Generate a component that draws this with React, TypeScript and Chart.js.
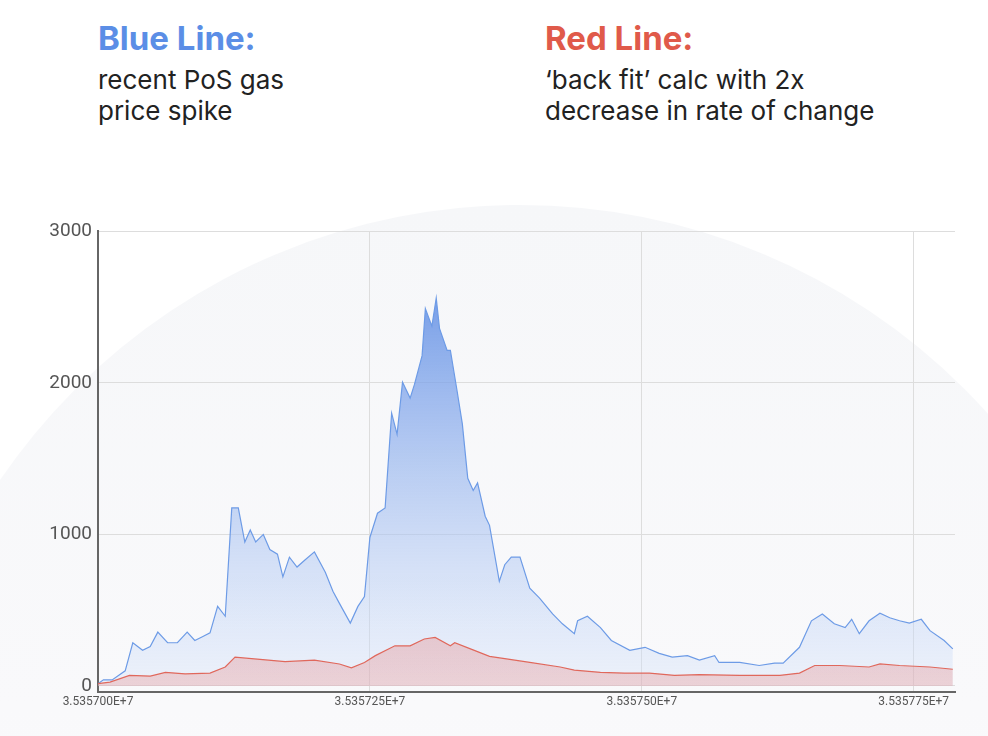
import React, { useEffect, useRef } from "react";
import { Chart, registerables } from "chart.js";
Chart.register(...registerables);

const BASE = 35357000;
const blueBlocks = [0,5,13,25,32,41,48,55,64,73,82,89,96,103,110,117,123,129,135,140,145,152,158,165,170,176,183,190,199,209,216,222,232,239,245,250,257,264,270,275,280,287,291,298,301,307,311,314,321,324,330,335,340,345,349,356,360,369,374,380,388,397,406,418,427,438,441,450,462,472,489,503,516,528,542,553,567,571,590,608,622,630,645,656,666,677,687,693,700,709,719,728,737,746,757,765,778,786];
const blueGas = [15,40,40,100,285,235,260,355,285,285,355,300,325,350,525,460,1175,1175,950,1030,950,1000,900,870,720,850,785,830,885,750,625,545,415,525,590,980,1140,1175,1800,1660,2005,1900,1990,2180,2490,2375,2560,2360,2215,2215,1955,1730,1370,1290,1340,1120,1060,690,800,850,850,645,580,475,410,345,430,460,385,300,235,255,215,190,200,170,200,155,155,135,150,150,255,430,475,410,385,440,345,430,480,450,430,415,440,365,300,245];
const redBlocks = [0,11,29,48,62,80,103,117,126,149,172,199,222,233,245,255,273,287,300,310,324,328,346,360,374,397,425,438,462,484,507,530,553,590,627,645,659,682,709,719,737,765,786];
const redGas = [15,25,70,65,90,80,85,125,190,175,160,170,145,120,155,200,265,265,310,320,265,285,235,195,180,155,125,105,90,85,85,70,75,70,70,85,135,135,125,145,135,125,110];
const yTicks = [0, 1000, 2000, 3000];

export default function App() {
  const ref = useRef<HTMLCanvasElement>(null);
  useEffect(() => {
    const grad = (ctx: any, top: string, bottom: string) => {
      const { chart } = ctx;
      const a = chart.chartArea;
      if (!a) return top;
      const g = chart.ctx.createLinearGradient(0, a.top, 0, a.bottom);
      g.addColorStop(0, top);
      g.addColorStop(1, bottom);
      return g;
    };
    const chart = new Chart(ref.current!, {
      type: "line",
      data: {
        datasets: [
          {
            data: redBlocks.map((b, i) => ({ x: BASE + b, y: redGas[i] })),
            borderColor: "#e0685c",
            borderWidth: 1.2,
            pointRadius: 0,
            fill: "origin",
            backgroundColor: (c: any) => grad(c, "rgba(225,110,105,0.75)", "rgba(230,150,150,0.35)"),
            order: 0,
          },
          {
            data: blueBlocks.map((b, i) => ({ x: BASE + b, y: blueGas[i] })),
            borderColor: "#6d9be6",
            borderWidth: 1.2,
            pointRadius: 0,
            fill: "origin",
            backgroundColor: (c: any) => grad(c, "rgba(80,130,225,0.95)", "rgba(215,228,250,0.35)"),
            order: 1,
          },
        ],
      },
      options: {
        animation: false,
        responsive: true,
        maintainAspectRatio: false,
        layout: { padding: { top: 3, right: 5, left: 0, bottom: 0 } },
        plugins: { legend: { display: false }, tooltip: { enabled: false } },
        scales: {
          x: {
            type: "linear",
            min: BASE,
            max: BASE + 788,
            afterBuildTicks: (s: any) => {
              s.ticks = [0, 250, 500, 750].map((v) => ({ value: BASE + v }));
            },
            afterFit: (s: any) => { s.height = 40; },
            ticks: {
              color: "#555",
              font: { family: "Roboto", size: 12 },
              maxRotation: 0,
              callback: (v: any) => (Number(v) / 1e7).toFixed(6) + "E+7",
            },
            grid: { color: "#dddddd", drawTicks: false },
            border: { color: "#666", width: 2 },
          },
          y: {
            min: -40,
            max: 3000,
            afterBuildTicks: (s: any) => { s.ticks = yTicks.map((v) => ({ value: v })); },
            afterFit: (s: any) => { s.width = 58; },
            ticks: {
              color: "#555",
              font: { family: "Roboto", size: 19 },
              padding: 6,
              callback: (v: any) => String(v),
            },
            grid: { color: "#dddddd", drawTicks: false },
            border: { color: "#666", width: 2 },
          },
        },
      },
    });
    return () => chart.destroy();
  }, []);

  return (
    <div style={{ position: "fixed", left: 0, top: 0, width: 988, height: 736, overflow: "hidden", background: "#fff", fontFamily: "Inter, Roboto, sans-serif" }}>
      <div style={{ position: "absolute", left: -109, top: 205, width: 1258, height: 1258, borderRadius: "50%", background: "linear-gradient(#f6f7f9, #f9f9fb 40%, #ffffff)" }} />
      <div style={{ position: "absolute", left: 98, top: 18 }}>
        <div style={{ color: "#5b8ee6", fontWeight: 700, fontSize: 33 }}>Blue Line:</div>
        <div style={{ color: "#222", fontSize: 26, lineHeight: "31px", marginTop: 6 }}>recent PoS gas<br />price spike</div>
      </div>
      <div style={{ position: "absolute", left: 545, top: 18 }}>
        <div style={{ color: "#e05a4a", fontWeight: 700, fontSize: 33 }}>Red Line:</div>
        <div style={{ color: "#222", fontSize: 26, lineHeight: "31px", marginTop: 6 }}>‘back fit’ calc with 2x<br />decrease in rate of change</div>
      </div>
      <div style={{ position: "absolute", left: 40, top: 214, width: 920, height: 518 }}>
        <canvas ref={ref} />
      </div>
    </div>
  );
}
